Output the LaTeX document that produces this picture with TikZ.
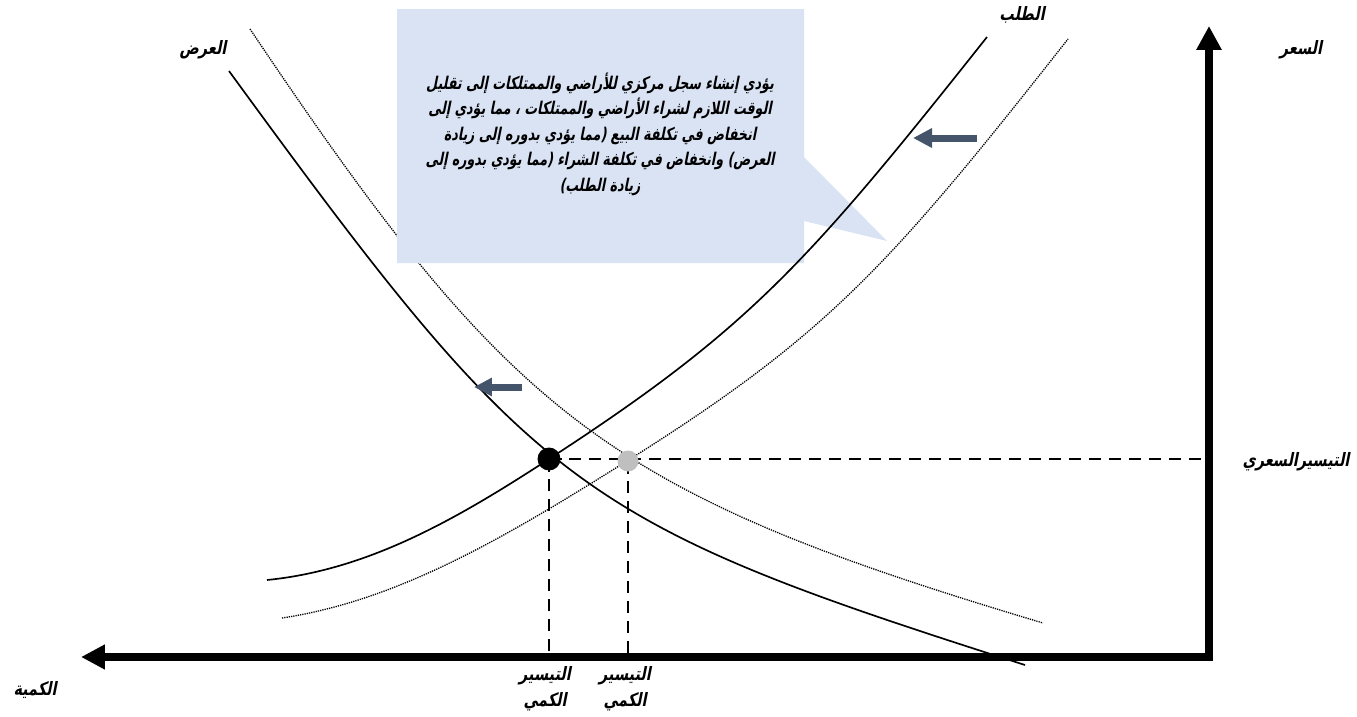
\documentclass[tikz,border=0pt]{standalone}
\usepackage{fontspec}
\usetikzlibrary{arrows.meta}
\TeXXeTstate=1
\newfontfamily\notefont[Script=Arabic,FakeSlant=0.2,FakeStretch=0.72]{DejaVu Sans Bold}
\newfontfamily\labelfont[Script=Arabic,FakeSlant=0.2,FakeStretch=0.78]{DejaVu Sans Bold}
\definecolor{notefill}{RGB}{218,227,243}
\definecolor{shiftcol}{RGB}{68,84,106}
\definecolor{dotgray}{RGB}{191,191,191}
\tikzset{
  curve/.style={line width=0.95pt, black},
  shifted/.style={line width=0.75pt, black, dash pattern=on 0.7pt off 0.6pt},
  guide/.style={line width=1.6pt, black, dash pattern=on 0.25cm off 0.15cm},
  axislabel/.style={font=\labelfont\fontsize{10.5}{12}\selectfont, inner sep=0pt},
  shiftarrow/.style={shiftcol, line width=0.14cm},
  eqdot/.style={circle, minimum size=0.46cm, inner sep=0pt},
}
\begin{document}
\begin{tikzpicture}[x=0.02cm,y=-0.02cm]
\useasboundingbox (0,0) rectangle (1357,717);

% shifted supply curve (runs under the note)
\draw[shifted] (250,29) .. controls (513,421) and (608,493) .. (1043,623);

% callout note
\fill[notefill] (397,9) -- (804,9) -- (804,157) -- (887,241) -- (804,221) -- (804,263) -- (397,263) -- cycle;
\node[font=\notefont\fontsize{10}{14.5}\selectfont, align=center, inner sep=0pt] (note) at (600,134) {%
\beginR يؤدي إنشاء سجل مركزي للأراضي والممتلكات إلى تقليل\endR\\
\beginR الوقت اللازم لشراء الأراضي والممتلكات ، مما يؤدي إلى\endR\\
\beginR انخفاض في تكلفة البيع (مما يؤدي بدوره إلى زيادة\endR\\
\beginR العرض) وانخفاض في تكلفة الشراء (مما يؤدي بدوره إلى\endR\\
\beginR زيادة الطلب)\endR};

% supply curve
\draw[curve] (229,71) .. controls (536,492) and (576,522) .. (1025,665);
% demand curve
\draw[curve] (267,580) .. controls (367,570) and (454,521) .. (549,459)
             .. controls (749,329) and (807,264) .. (987,37);
% shifted demand curve
\draw[shifted] (282,618) .. controls (402,600) and (512,533) .. (627,461)
               .. controls (827,335) and (888,268) .. (1068,39);

% shift arrows
\draw[shiftarrow, -{Triangle[length=0.38cm,width=0.37cm]}] (977,138) -- (913,138);
\draw[shiftarrow, -{Triangle[length=0.36cm,width=0.35cm]}] (522,387) -- (474,387);

% axes
\draw[line width=0.16cm, {Triangle[length=0.48cm,width=0.47cm]}-{Triangle[length=0.48cm,width=0.48cm]}] (81,657) -- (1209,657) -- (1209,26);

% equilibrium points and guide lines
\coordinate (priceend) at (1205,460);
\coordinate (q1end) at (549,653);
\coordinate (q2end) at (628,653);
\node[eqdot] (eq) at (549,459) {};
\node[eqdot, minimum size=0.42cm] (eqnew) at (628,461) {};
\draw[guide] (eq.center) -- (eq.center -| priceend);
\draw[guide] (eq.center) -- (q1end);
\draw[guide] (eqnew.center) -- (q2end);
\fill[dotgray] (eqnew) circle (0.21cm);
\fill[black] (eq) circle (0.23cm);

% labels
\node[axislabel] (lprice) at (1301,50) {\beginR السعر\endR};
\node[axislabel] (lpeq) at (1296,462) {\beginR التيسيرالسعري\endR};
\node[axislabel] (lqty) at (35,690) {\beginR الكمية\endR};
\node[axislabel] (lsupply) at (203,50) {\beginR العرض\endR};
\node[axislabel] (ldemand) at (1022,15) {\beginR الطلب\endR};
\node[axislabel, align=center] (lq1) at (545,689) {\beginR التيسير\endR\\[3pt]\beginR الكمي\endR};
\node[axislabel, align=center] (lq2) at (625,689) {\beginR التيسير\endR\\[3pt]\beginR الكمي\endR};
\end{tikzpicture}
\end{document}
